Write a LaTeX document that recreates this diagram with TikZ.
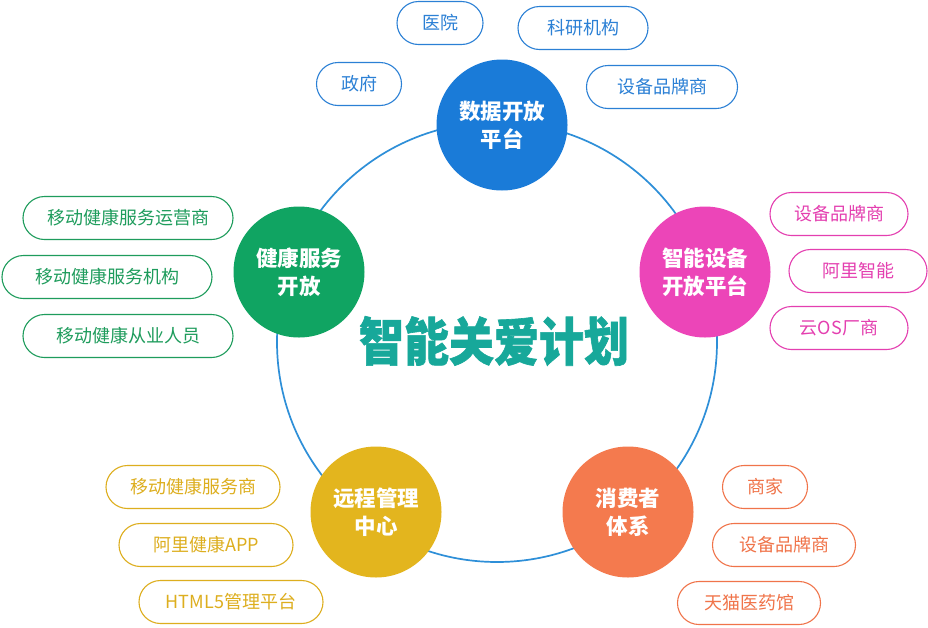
\documentclass[tikz,border=0pt]{standalone}
\usepackage{fontspec}
\setmainfont{Noto Sans CJK SC}
\newfontfamily\titlefont{Noto Sans CJK SC}[BoldFeatures={FakeBold=1.2}]
\usetikzlibrary{shapes.misc}
\definecolor{cblue}{HTML}{1A7BD8}
\definecolor{pblue}{HTML}{2B80D5}
\definecolor{cgreen}{HTML}{10A462}
\definecolor{pgreen}{HTML}{1E9C5C}
\definecolor{cpink}{HTML}{EC45B8}
\definecolor{ppink}{HTML}{E43FB0}
\definecolor{cyellow}{HTML}{E3B51E}
\definecolor{pyellow}{HTML}{DDAE1E}
\definecolor{corange}{HTML}{F47A4E}
\definecolor{porange}{HTML}{F0744A}
\definecolor{ringc}{HTML}{2E8FD8}
\definecolor{titlec}{HTML}{17A89A}
\begin{document}
\begin{tikzpicture}[x=1pt,y=-1pt,
  hub/.style={circle, minimum size=131pt, inner sep=0pt, fill=#1, text=white,
    align=center, font=\fontsize{21.5}{28}\selectfont\bfseries},
  pill/.style={rounded rectangle, draw=#1, text=#1, line width=1.1pt,
    minimum height=43pt, inner sep=0pt, font=\fontsize{18}{20}\selectfont},
  ring/.style={draw=ringc, line width=1.7pt}]
\useasboundingbox (0,0) rectangle (928,627);
\fill[white] (0,0) rectangle (928,627);
\coordinate (c) at (497,342);
\draw[ring] (c) circle[radius=220pt];
% hubs
\node[hub=cblue] (data) at (502,125) {数据开放\\平台};
\node[hub=cgreen] (health) at (299,272) {健康服务\\开放};
\node[hub=cpink] (smart) at (705,272) {智能设备\\开放平台};
\node[hub=cyellow] (remote) at (376,512) {远程管理\\中心};
\node[hub=corange] (consumer) at (628,512) {消费者\\体系};
% title
\node[text=titlec, font=\titlefont\fontsize{45}{50}\selectfont\bfseries, inner sep=0pt, yscale=1.15] (title) at (494,341) {智能关爱计划};
% blue pills
\node[pill=pblue, minimum width=86pt] (yy) at (440,23) {医院};
\node[pill=pblue, minimum width=130pt] (ky) at (583,28) {科研机构};
\node[pill=pblue, minimum width=85pt] (zf) at (359,84) {政府};
\node[pill=pblue, minimum width=151pt] (sb1) at (662,87) {设备品牌商};
% green pills
\node[pill=pgreen, minimum width=210pt] (g1) at (128,218) {移动健康服务运营商};
\node[pill=pgreen, minimum width=210pt] (g2) at (107,277) {移动健康服务机构};
\node[pill=pgreen, minimum width=210pt] (g3) at (128,336) {移动健康从业人员};
% pink pills
\node[pill=ppink, minimum width=138pt] (p1) at (839,214) {设备品牌商};
\node[pill=ppink, minimum width=138pt] (p2) at (858,271) {阿里智能};
\node[pill=ppink, minimum width=138pt] (p3) at (839,328) {云OS厂商};
% yellow pills
\node[pill=pyellow, minimum width=174pt] (y1) at (193,487) {移动健康服务商};
\node[pill=pyellow, minimum width=174pt] (y2) at (206,545) {阿里健康APP};
\node[pill=pyellow, minimum width=184pt] (y3) at (231,602) {HTML5管理平台};
% orange pills
\node[pill=porange, minimum width=85pt] (o1) at (765,487) {商家};
\node[pill=porange, minimum width=143pt] (o2) at (784,545) {设备品牌商};
\node[pill=porange, minimum width=143pt] (o3) at (749,603) {天猫医药馆};
\end{tikzpicture}
\end{document}
